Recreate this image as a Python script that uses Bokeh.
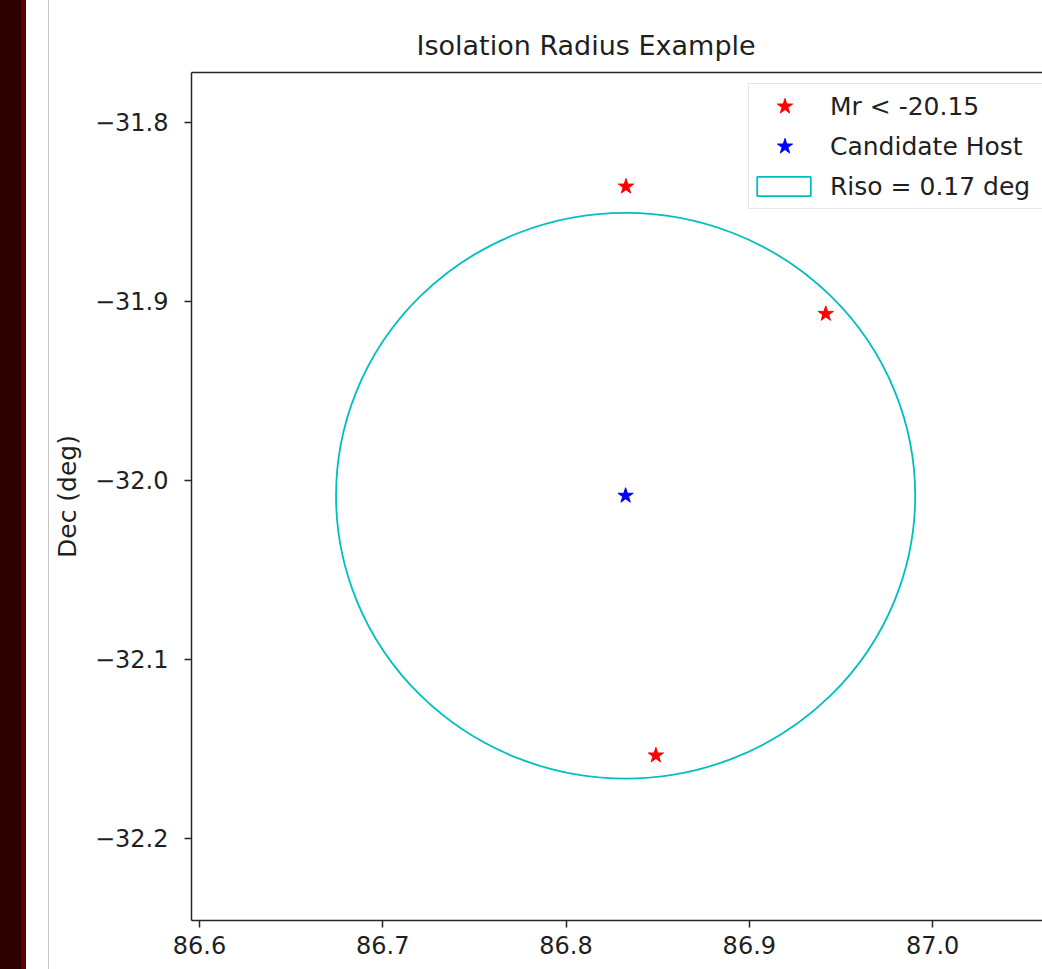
from bokeh.plotting import figure
from bokeh.models import (Range1d, FixedTicker, LinearAxis, Legend, LegendItem, Div,
                          ColumnDataSource)
from bokeh.layouts import row
from bokeh.embed import file_html
from bokeh.resources import INLINE

# ---- data ----
title_text = "Isolation Radius Example"
y_label = "Dec (deg)"

bright_ra = [86.8327, 86.9417, 86.8490]
bright_dec = [-31.8358, -31.9069, -32.1536]
host_ra = [86.8325]
host_dec = [-32.0085]
riso_radius = [0.158]

x_ticks = [86.6, 86.7, 86.8, 86.9, 87.0]
x_tick_labels = ["86.6", "86.7", "86.8", "86.9", "87.0"]
y_ticks = [-31.8, -31.9, -32.0, -32.1, -32.2]
y_tick_labels = ["\u221231.8", "\u221231.9", "\u221232.0", "\u221232.1", "\u221232.2"]

legend_labels = ["Mr < -20.15", "Candidate Host", "Riso = 0.17 deg"]

# ---- styling ----
FONT = "DejaVu Sans"
TXT = "#1f1f1f"
AX = "#262626"
CYAN = "#00bfbf"

p = figure(width=993, height=969, output_backend="svg", toolbar_location=None,
           x_range=Range1d(86.59564, 87.05995), y_range=Range1d(-32.24581, -31.77207),
           min_border_left=141, min_border_right=0, min_border_top=72, min_border_bottom=49,
           background_fill_color="white", border_fill_color="white", outline_line_color=None)
p.grid.visible = False
# a range used only by the legend proxy, so that the proxy itself lands outside the frame
p.extra_y_ranges = {"legend_proxy": Range1d(start=0, end=1)}

p.title.text = title_text
p.title.text_font = FONT
p.title.text_font_size = "27px"
p.title.text_font_style = "normal"
p.title.text_color = TXT
p.title.align = "left"
p.title.offset = 225
p.title.standoff = 23

for ax, ticks, labels in ((p.xaxis[0], x_ticks, x_tick_labels), (p.yaxis[0], y_ticks, y_tick_labels)):
    ax.ticker = FixedTicker(ticks=ticks, minor_ticks=[])
    ax.major_label_overrides = dict(zip(ticks, labels))
    ax.major_label_text_font = FONT
    ax.major_label_text_font_size = "24px"
    ax.major_label_text_color = TXT
    ax.axis_line_color = AX
    ax.axis_line_width = 1.5
    ax.major_tick_line_color = AX
    ax.major_tick_line_width = 1.5
    ax.major_tick_in = 0
    ax.major_tick_out = 7
    ax.minor_tick_line_color = None

p.xaxis.major_label_standoff = 8
p.yaxis.major_label_standoff = 16
p.yaxis.axis_label = y_label
p.yaxis.axis_label_text_font = FONT
p.yaxis.axis_label_text_font_size = "25px"
p.yaxis.axis_label_text_font_style = "normal"
p.yaxis.axis_label_text_color = TXT
p.yaxis.axis_label_standoff = 10

top = LinearAxis(ticker=FixedTicker(ticks=[], minor_ticks=[]), major_label_text_font_size="0px",
                 major_tick_line_color=None, minor_tick_line_color=None,
                 axis_line_color=AX, axis_line_width=1.5)
p.add_layout(top, "above")

# ---- marks ----
circ = p.ellipse(x=host_ra, y=host_dec, width=[2 * r for r in riso_radius],
                 height=[2 * r for r in riso_radius],
                 fill_color=None, line_color=CYAN, line_width=1.8)
red = p.scatter(x=bright_ra, y=bright_dec, marker="star", size=16,
                fill_color="#ff0000", line_color="#ff0000")
blue = p.scatter(x=host_ra, y=host_dec, marker="star", size=16,
                 fill_color="#0000ff", line_color="#0000ff")

# legend proxies: a patch-style box for the isolation circle (its own range keeps it off the frame)
ghost = p.quad(left=[], right=[], top=[], bottom=[], fill_alpha=0, line_alpha=0)
box_src = ColumnDataSource(dict(
    left=[x - r for x, r in zip(host_ra, riso_radius)],
    right=[x + r for x, r in zip(host_ra, riso_radius)],
    bottom=[y - r for y, r in zip(host_dec, riso_radius)],
    top=[y + r for y, r in zip(host_dec, riso_radius)]))
box_proxy = p.quad(left="left", right="right", top="top", bottom="bottom", source=box_src,
                   y_range_name="legend_proxy",
                   fill_color="white", line_color=CYAN, line_width=1.8)

leg_a = Legend(items=[LegendItem(label=legend_labels[0], renderers=[red]),
                      LegendItem(label=legend_labels[1], renderers=[blue]),
                      LegendItem(label=legend_labels[2], renderers=[ghost])],
               location=(557, 711), glyph_width=67, glyph_height=40, spacing=0,
               padding=2, label_standoff=12, label_width=240,
               label_text_font=FONT, label_text_font_size="25px", label_text_color=TXT,
               border_line_color="#cccccc", border_line_width=1.5,
               background_fill_color="white", background_fill_alpha=0.85)
leg_b = Legend(items=[LegendItem(label=" ", renderers=[box_proxy])],
               location=(559, 722), glyph_width=67, glyph_height=24, spacing=0,
               padding=0, label_standoff=0, label_height=24, label_width=1,
               label_text_font=FONT, label_text_font_size="4px",
               border_line_color=None, background_fill_alpha=0)
p.add_layout(leg_a)
p.add_layout(leg_b)

band = Div(text='<div style="width:49px;height:969px;background:linear-gradient(to right,'
                '#2a0000 0px,#2a0000 21px,#5c0000 21px,#5c0000 26px,#ffffff 26px,'
                '#ffffff 48px,#c6c6c6 48px,#c6c6c6 49px)"></div>',
           width=49, height=969, margin=0)

layout = row(band, p, spacing=0)
open("out.html", "w").write(file_html(layout, INLINE))
